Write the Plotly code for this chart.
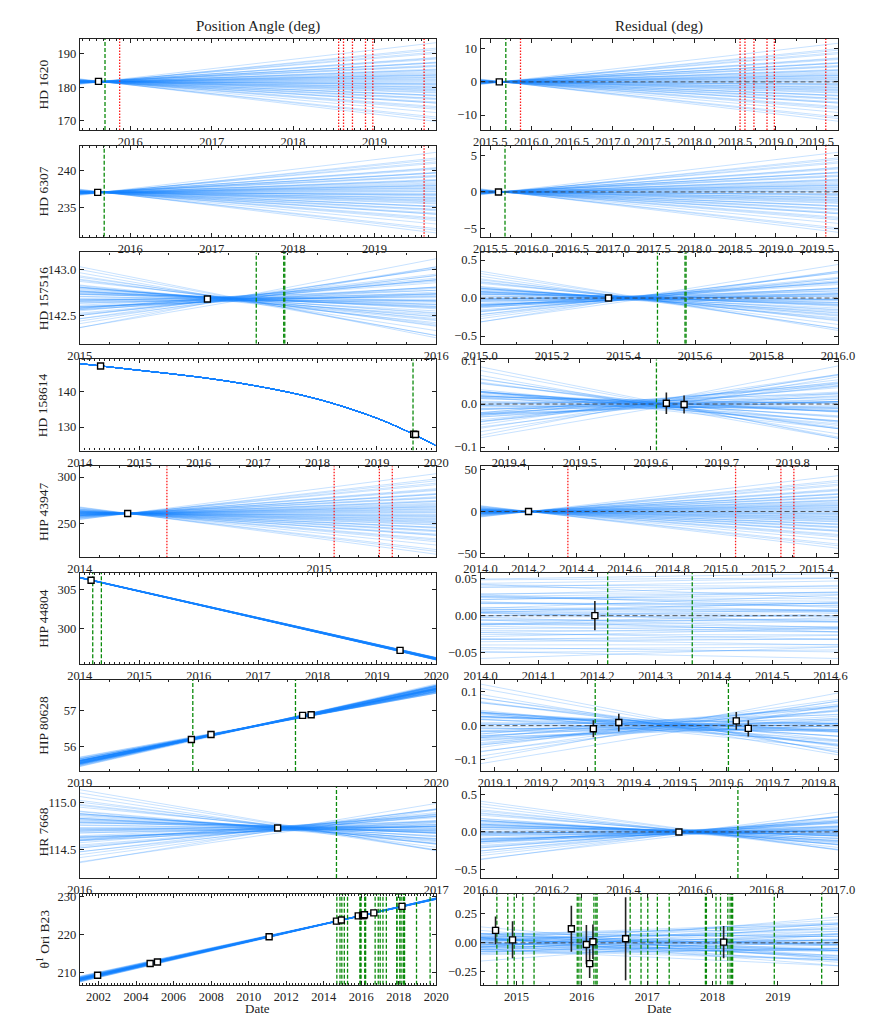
import plotly.graph_objects as go

FIG_W, FIG_H = 872, 1019

# normalised posterior fan: offset at the pivot epoch and slope, one pair per draw
FAN_U = [0.30, -0.58, -0.11, 0.74, -0.02, 0.44, -0.88, 0.17, 0.52, -0.23,
         -0.36, 0.05, 0.97, -0.65, -0.14, 0.38, -0.42, 0.23, -0.08, 0.61,
         -0.47, 0.10, 0.69, -0.30, 0.13, -0.80, 0.27, -0.19, 0.40, -0.54,
         0.02, 0.86, -0.33, 0.07, -0.97, 0.49, -0.05, 0.20, -0.25, 0.34,
         -0.72, 0.15, 0.56, -0.38, 0.91, -0.12, -0.61, 0.29, 0.04, -0.84,
         0.46, -0.27, 0.78, -0.50, 0.22, -0.03, 0.63, -0.17, -0.92, 0.36]
FAN_V = [0.01, -0.04, 0.07, -0.10, 0.13, -0.16, 0.19, -0.22, 0.25, -0.28,
         0.32, -0.36, 0.40, -0.44, 0.49, -0.54, 0.61, -0.69, 0.80, -1.00,
         -0.02, 0.05, -0.08, 0.11, -0.14, 0.17, -0.20, 0.23, -0.27, 0.30,
         -0.34, 0.38, -0.42, 0.47, -0.52, 0.58, -0.65, 0.74, -0.88, 0.97,
         0.03, -0.06, 0.09, -0.12, 0.15, -0.18, 0.21, -0.24, 0.29, -0.33,
         0.37, -0.41, 0.46, -0.50, 0.56, -0.62, 0.70, -0.77, 0.85, -0.93]

# ---- HD 1620
HD1620_T = [2015.61]
HD1620_PA = [181.8]
HD1620_RT = [2015.61]
HD1620_RES = [0.0]
HD1620_ERR = [0.0]
HD1620_GREEN = [2015.69]
HD1620_RED = [2015.87, 2018.56, 2018.62, 2018.73, 2018.89, 2018.98, 2019.61]
HD1620_MODEL_T = [2015.38, 2019.76]
HD1620_MODEL_PA = [181.7, 181.7]
HD1620_FAN = [2015.64, 0.15, 2.9, 2.9]  # pivot, waist, slope (residual), slope (PA)

# ---- HD 6307
HD6307_T = [2015.60]
HD6307_PA = [237.1]
HD6307_RT = [2015.60]
HD6307_RES = [0.0]
HD6307_ERR = [0.0]
HD6307_GREEN = [2015.68]
HD6307_RED = [2019.61]
HD6307_MODEL_T = [2015.38, 2019.76]
HD6307_MODEL_PA = [237.1, 237.1]
HD6307_FAN = [2015.66, 0.08, 1.35, 1.35]

# ---- HD 157516
HD157516_T = [2015.358]
HD157516_PA = [142.68]
HD157516_RT = [2015.358]
HD157516_RES = [0.0]
HD157516_ERR = [0.0]
HD157516_GREEN = [2015.495, 2015.572, 2015.575]
HD157516_RED = []
HD157516_MODEL_T = [2015.0, 2016.0]
HD157516_MODEL_PA = [142.68, 142.68]
HD157516_FAN = [2015.43, 0.03, 0.78, 0.78]

# ---- HD 158614
HD158614_T = [2014.35, 2019.62, 2019.65]
HD158614_PA = [147.2, 128.0, 127.9]
HD158614_RT = [2019.622, 2019.647]
HD158614_RES = [0.002, -0.001]
HD158614_ERR = [0.025, 0.021]
HD158614_GREEN = [2019.608]
HD158614_RED = []
HD158614_MODEL_T = [2014, 2015, 2016, 2017, 2018, 2019, 2019.6, 2020]
HD158614_MODEL_PA = [147.9, 146.0, 144.1, 141.5, 137.9, 132.5, 128.1, 124.7]
HD158614_FAN = [2019.6, 0.012, 0.33, 0.0]

# ---- HIP 43947
HIP43947_T = [2014.2]
HIP43947_PA = [261.0]
HIP43947_RT = [2014.2]
HIP43947_RES = [0.0]
HIP43947_ERR = [0.0]
HIP43947_GREEN = []
HIP43947_RED = [2014.364, 2015.063, 2015.252, 2015.306]
HIP43947_MODEL_T = [2014.0, 2015.5]
HIP43947_MODEL_PA = [261.0, 261.0]
HIP43947_FAN = [2014.2, 0.3, 34.0, 34.0]

# ---- HIP 44804
HIP44804_T = [2014.19, 2019.39]
HIP44804_PA = [306.25, 297.1]
HIP44804_RT = [2014.196]
HIP44804_RES = [0.0]
HIP44804_ERR = [0.02]
HIP44804_GREEN = [2014.218, 2014.363]
HIP44804_RED = []
HIP44804_MODEL_T = [2014.0, 2020.0]
HIP44804_MODEL_PA = [306.6, 296.0]
HIP44804_FAN = [2014.3, 0.055, 0.03, 0.03]

# ---- HIP 80628
HIP80628_T = [2019.313, 2019.368, 2019.625, 2019.649]
HIP80628_PA = [56.19, 56.33, 56.86, 56.88]
HIP80628_RT = [2019.313, 2019.368, 2019.622, 2019.648]
HIP80628_RES = [-0.009, 0.009, 0.014, -0.008]
HIP80628_ERR = [0.025, 0.026, 0.026, 0.024]
HIP80628_GREEN = [2019.317, 2019.605]
HIP80628_RED = []
HIP80628_MODEL_T = [2019.0, 2020.0]
HIP80628_MODEL_PA = [55.56, 57.60]
HIP80628_FAN = [2019.49, 0.02, 0.26, 0.26]

# ---- HR 7668
HR7668_T = [2016.555]
HR7668_PA = [114.73]
HR7668_RT = [2016.555]
HR7668_RES = [0.0]
HR7668_ERR = [0.0]
HR7668_GREEN = [2016.72]
HR7668_RED = []
HR7668_MODEL_T = [2016.0, 2017.0]
HR7668_MODEL_PA = [114.73, 114.73]
HR7668_FAN = [2016.6, 0.03, 0.65, 0.65]

# ---- theta1 Ori B23
THETA_T = [2001.95, 2004.75, 2005.14, 2011.09, 2014.68, 2014.94, 2015.84,
           2016.07, 2016.12, 2016.17, 2016.67, 2018.17]
THETA_PA = [209.3, 212.4, 212.8, 219.5, 223.6, 223.9, 225.0,
            225.1, 225.1, 225.3, 225.8, 227.5]
THETA_RT = [2014.68, 2014.94, 2015.84, 2016.07, 2016.12, 2016.17, 2016.67, 2018.17]
THETA_RES = [0.108, 0.026, 0.122, -0.015, -0.18, 0.009, 0.035, 0.006]
THETA_ERR = [0.12, 0.16, 0.2, 0.17, 0.125, 0.15, 0.36, 0.14]
THETA_GREEN = [2014.70, 2014.867, 2014.965, 2015.097, 2015.269, 2015.93, 2015.955,
               2015.99, 2016.185, 2016.215, 2016.234, 2016.74, 2016.906, 2017.009,
               2017.156, 2017.337, 2017.891, 2017.906, 2018.053, 2018.122, 2018.234,
               2018.269, 2018.293, 2018.308, 2018.945, 2019.67]
THETA_RED = []
THETA_MODEL_T = [2001.0, 2020.0]
THETA_MODEL_PA = [208.25, 229.55]
THETA_FAN = [2016.0, 0.1, 0.05, 0.05]

STARS = [
    ("HD 1620", HD1620_T, HD1620_PA, HD1620_RT, HD1620_RES, HD1620_ERR, HD1620_GREEN,
     HD1620_RED, HD1620_MODEL_T, HD1620_MODEL_PA, HD1620_FAN),
    ("HD 6307", HD6307_T, HD6307_PA, HD6307_RT, HD6307_RES, HD6307_ERR, HD6307_GREEN,
     HD6307_RED, HD6307_MODEL_T, HD6307_MODEL_PA, HD6307_FAN),
    ("HD 157516", HD157516_T, HD157516_PA, HD157516_RT, HD157516_RES, HD157516_ERR,
     HD157516_GREEN, HD157516_RED, HD157516_MODEL_T, HD157516_MODEL_PA, HD157516_FAN),
    ("HD 158614", HD158614_T, HD158614_PA, HD158614_RT, HD158614_RES, HD158614_ERR,
     HD158614_GREEN, HD158614_RED, HD158614_MODEL_T, HD158614_MODEL_PA, HD158614_FAN),
    ("HIP 43947", HIP43947_T, HIP43947_PA, HIP43947_RT, HIP43947_RES, HIP43947_ERR,
     HIP43947_GREEN, HIP43947_RED, HIP43947_MODEL_T, HIP43947_MODEL_PA, HIP43947_FAN),
    ("HIP 44804", HIP44804_T, HIP44804_PA, HIP44804_RT, HIP44804_RES, HIP44804_ERR,
     HIP44804_GREEN, HIP44804_RED, HIP44804_MODEL_T, HIP44804_MODEL_PA, HIP44804_FAN),
    ("HIP 80628", HIP80628_T, HIP80628_PA, HIP80628_RT, HIP80628_RES, HIP80628_ERR,
     HIP80628_GREEN, HIP80628_RED, HIP80628_MODEL_T, HIP80628_MODEL_PA, HIP80628_FAN),
    ("HR 7668", HR7668_T, HR7668_PA, HR7668_RT, HR7668_RES, HR7668_ERR, HR7668_GREEN,
     HR7668_RED, HR7668_MODEL_T, HR7668_MODEL_PA, HR7668_FAN),
    ("θ<sup>1</sup> Ori B23", THETA_T, THETA_PA, THETA_RT, THETA_RES, THETA_ERR,
     THETA_GREEN, THETA_RED, THETA_MODEL_T, THETA_MODEL_PA, THETA_FAN),
]

# axis settings, one entry per star row
X_RANGE_L = [[2015.38, 2019.76], [2015.38, 2019.76], [2014.9999, 2016.0001], [2013.9999, 2020.0001],
             [2013.9999, 2015.49], [2013.9999, 2020.0001], [2018.9999, 2020.0001],
             [2015.9999, 2017.0001], [2001.0, 2020.0001]]
X_RANGE_R = [[2015.38, 2019.76], [2015.38, 2019.76], [2014.9999, 2016.0001], [2019.36, 2019.864],
             [2013.9999, 2015.49], [2013.9999, 2014.613], [2019.069, 2019.842],
             [2015.9999, 2017.0001], [2014.45, 2019.92]]
Y_RANGE_L = [[167.3, 194.5], [231.1, 243.4], [142.19, 143.19], [123.4, 149.1], [214.0, 311.7],
             [295.3, 307.2], [55.31, 57.85], [114.2, 115.17], [206.8, 230.9]]
Y_RANGE_R = [[-14.5, 13.0], [-6.1, 6.3], [-0.6, 0.6], [-0.108, 0.104], [-54.5, 54.0],
             [-0.066, 0.058], [-0.133, 0.134], [-0.61, 0.6], [-0.363, 0.427]]
# (tick0, dtick, minor dtick, format)
X_TICKS_L = [(2016, 1, 1 / 12, "d"), (2016, 1, 1 / 12, "d"), (2015, 1, 1 / 12, "d"),
             (2014, 1, 1 / 12, "d"), (2014, 1, 1 / 12, "d"), (2014, 1, 1 / 12, "d"),
             (2019, 1, 1 / 12, "d"), (2016, 1, 1 / 12, "d"), (2002, 2, 1 / 6, "d")]
X_TICKS_R = [(2015.5, 0.5, 0.25, ".1f"), (2015.5, 0.5, 0.25, ".1f"), (2015, 0.2, 0.1, ".1f"),
             (2019.4, 0.1, 0.05, ".1f"), (2014, 0.2, 0.1, ".1f"), (2014, 0.1, 0.05, ".1f"),
             (2019.1, 0.1, 0.05, ".1f"), (2016, 0.2, 0.1, ".1f"), (2015, 1, 0.5, "d")]
# (dtick, format)
Y_TICKS_L = [(10, "d"), (5, "d"), (0.5, ".1f"), (10, "d"), (50, "d"), (5, "d"), (1, "d"),
             (0.5, ".1f"), (10, "d")]
Y_TICKS_R = [(10, "d"), (5, "d"), (0.5, ".1f"), (0.1, ".1f"), (50, "d"), (0.05, ".2f"),
             (0.1, ".1f"), (0.5, ".1f"), (0.25, ".2f")]

FONT = "Liberation Serif"
INK = "#222222"
FAN_COLOR = "rgba(25,135,255,0.24)"
LEFT_PX = [57, 428]
RIGHT_PX = [474, 846]
ROW_TOP, ROW_STEP, ROW_H = 26, 107.8, 92


def names(n):
    return ("x" if n == 1 else f"x{n}"), ("y" if n == 1 else f"y{n}")


fig = go.Figure()
layout = {}

for r, (label, t, pa, rt, res, err, green, red, mt, mpa, fan) in enumerate(STARS):
    t0, w0, k_res, k_pa = fan
    top = ROW_TOP + ROW_STEP * r
    ydom = [1 - (top + ROW_H) / FIG_H, 1 - top / FIG_H]
    for c in (0, 1):
        n = 2 * r + c + 1
        xa, ya = names(n)
        xr = X_RANGE_L[r] if c == 0 else X_RANGE_R[r]
        yr = Y_RANGE_L[r] if c == 0 else Y_RANGE_R[r]

        # posterior draws
        for u, v in zip(FAN_U, FAN_V):
            if c == 0:
                xs = mt
                ys = [m + u * w0 + v * k_pa * (tt - t0) for tt, m in zip(mt, mpa)]
            else:
                xs = xr
                ys = [u * w0 + v * k_res * (tt - t0) for tt in xr]
            fig.add_trace(go.Scatter(x=xs, y=ys, mode="lines", xaxis=xa, yaxis=ya,
                                     line=dict(color=FAN_COLOR, width=1, shape="spline"),
                                     hoverinfo="skip", showlegend=False))

        for tv in green:
            fig.add_trace(go.Scatter(x=[tv, tv], y=yr, mode="lines", xaxis=xa, yaxis=ya,
                                     line=dict(color="#0a8a0a", width=1.3, dash="4px,2px"),
                                     hoverinfo="skip", showlegend=False))
        for tv in red:
            fig.add_trace(go.Scatter(x=[tv, tv], y=yr, mode="lines", xaxis=xa, yaxis=ya,
                                     line=dict(color="#ff1a1a", width=1.3, dash="1.5px,1.5px"),
                                     hoverinfo="skip", showlegend=False))

        marker = dict(symbol="square", size=6, color="white", line=dict(color="black", width=1.4))
        if c == 1:
            fig.add_trace(go.Scatter(x=xr, y=[0, 0], mode="lines", xaxis=xa, yaxis=ya,
                                     line=dict(color="rgba(60,60,60,0.85)", width=1, dash="5px,3px"),
                                     hoverinfo="skip", showlegend=False))
            fig.add_trace(go.Scatter(x=rt, y=res, mode="markers", xaxis=xa, yaxis=ya, marker=marker,
                                     error_y=dict(type="data", array=err, color=INK,
                                                  thickness=1.6, width=0),
                                     showlegend=False))
        else:
            fig.add_trace(go.Scatter(x=t, y=pa, mode="markers", xaxis=xa, yaxis=ya,
                                     marker=marker, showlegend=False))

        px = LEFT_PX if c == 0 else RIGHT_PX
        tick0, dtick, minor, xfmt = X_TICKS_L[r] if c == 0 else X_TICKS_R[r]
        ydt, yfmt = Y_TICKS_L[r] if c == 0 else Y_TICKS_R[r]
        common = dict(showline=True, linecolor=INK, linewidth=1.2, mirror="ticks",
                      ticks="inside", ticklen=4, tickwidth=1, tickcolor=INK,
                      showgrid=False, zeroline=False, tickangle=0,
                      tickfont=dict(family=FONT, size=12.5, color=INK))
        layout["xaxis" if n == 1 else f"xaxis{n}"] = dict(
            common, domain=[px[0] / FIG_W, px[1] / FIG_W], range=xr, anchor=ya,
            tick0=tick0, dtick=dtick, tickformat=xfmt,
            minor=dict(ticks="inside", ticklen=2, tickcolor=INK, tick0=tick0, dtick=minor,
                       showgrid=False))
        layout["yaxis" if n == 1 else f"yaxis{n}"] = dict(
            common, domain=ydom, range=yr, anchor=xa, tick0=0, dtick=ydt, tickformat=yfmt)

annotations = []
for r, star in enumerate(STARS):
    top = ROW_TOP + ROW_STEP * r
    annotations.append(dict(text=star[0], x=19 / FIG_W, y=1 - (top + ROW_H / 2) / FIG_H,
                            xref="paper", yref="paper", textangle=-90, showarrow=False,
                            xanchor="center", yanchor="middle",
                            font=dict(family=FONT, size=13.5, color=INK)))
for title, xc in (("Position Angle (deg)", 242), ("Residual (deg)", 660)):
    annotations.append(dict(text=title, x=xc / FIG_W, y=1 - 14 / FIG_H, xref="paper", yref="paper",
                            showarrow=False, xanchor="center", yanchor="middle",
                            font=dict(family=FONT, size=15, color=INK)))
for xc in (242, 660):
    annotations.append(dict(text="Date", x=xc / FIG_W, y=1 - 1004 / FIG_H, xref="paper", yref="paper",
                            showarrow=False, xanchor="center", yanchor="middle",
                            font=dict(family=FONT, size=13, color=INK)))

fig.update_layout(**layout)
fig.update_layout(width=FIG_W, height=FIG_H, margin=dict(l=0, r=0, t=0, b=0),
                  plot_bgcolor="white", paper_bgcolor="white", showlegend=False,
                  annotations=annotations, font=dict(family=FONT, color=INK))

fig.write_html("out.html")
